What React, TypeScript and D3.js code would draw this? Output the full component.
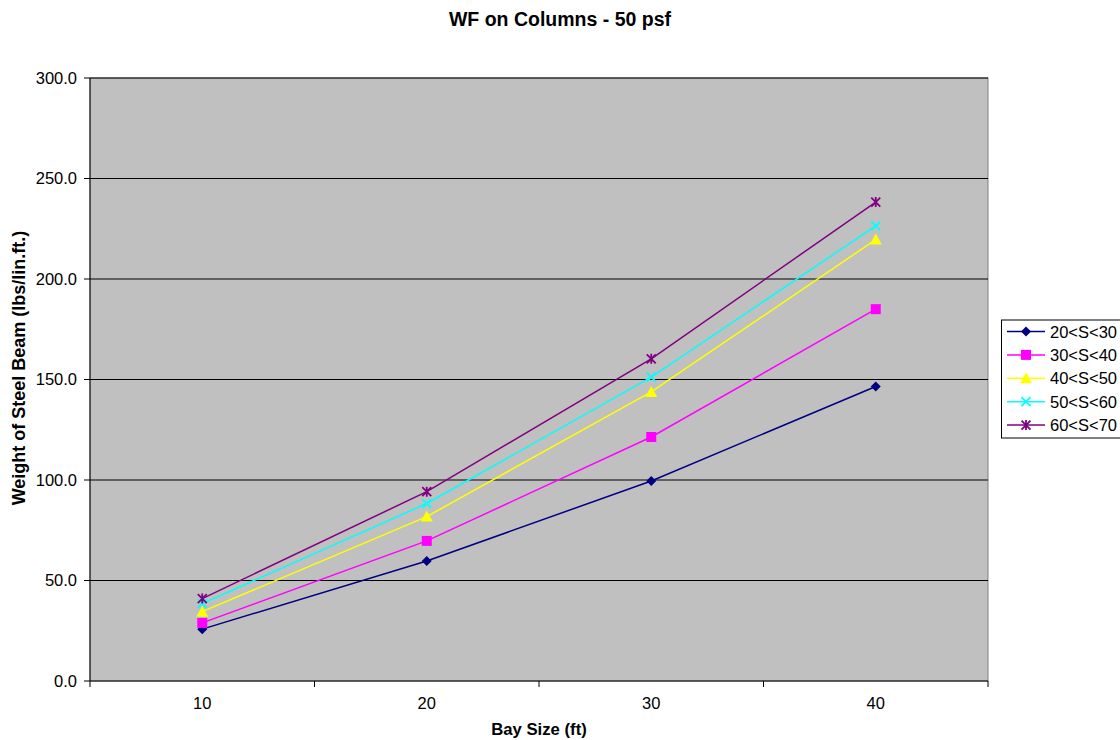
import React from "react";
import * as d3 from "d3";

const categories = [10, 20, 30, 40];
const seriesNames = ["20<S<30", "30<S<40", "40<S<50", "50<S<60", "60<S<70"];
const s1 = [25.8, 59.7, 99.5, 146.5];
const s2 = [28.9, 69.7, 121.4, 185.0];
const s3 = [34.5, 81.8, 143.8, 219.6];
const s4 = [38.5, 88.3, 151.2, 226.4];
const s5 = [41.0, 94.2, 160.3, 238.3];
const yTicks = [0, 50, 100, 150, 200, 250, 300];

const seriesValues = [s1, s2, s3, s4, s5];
const colors = ["#000080", "#FF00FF", "#FFFF00", "#00FFFF", "#800080"];
const markers = ["diamond", "square", "triangle", "x", "star"];

const W = 1120, H = 740;
const plot = { left: 90, right: 988, top: 78, bottom: 681 };

function Marker({ type, x, y, color }: { type: string; x: number; y: number; color: string }) {
  if (type === "diamond") {
    const s = 5;
    return <path d={`M${x},${y - s}L${x + s},${y}L${x},${y + s}L${x - s},${y}Z`} fill={color} />;
  }
  if (type === "square") {
    return <rect x={x - 5} y={y - 5} width={10} height={10} fill={color} />;
  }
  if (type === "triangle") {
    return <path d={`M${x},${y - 6}L${x + 6},${y + 5}L${x - 6},${y + 5}Z`} fill={color} />;
  }
  if (type === "x") {
    const s = 4.5;
    return (
      <path d={`M${x - s},${y - s}L${x + s},${y + s}M${x - s},${y + s}L${x + s},${y - s}`} stroke={color} strokeWidth={1.8} fill="none" />
    );
  }
  const s = 4.5;
  return (
    <path
      d={`M${x - s},${y - s}L${x + s},${y + s}M${x - s},${y + s}L${x + s},${y - s}M${x},${y - s - 0.5}L${x},${y + s + 0.5}`}
      stroke={color}
      strokeWidth={1.8}
      fill="none"
    />
  );
}

export default function App() {
  const x = d3
    .scaleBand<number>()
    .domain(categories)
    .range([plot.left, plot.right])
    .padding(0);
  const y = d3.scaleLinear().domain([0, 300]).range([plot.bottom, plot.top]);
  const cx = (c: number) => (x(c) as number) + x.bandwidth() / 2;
  const line = d3
    .line<number>()
    .x((_, i) => cx(categories[i]))
    .y((d) => y(d));

  const boundaries = categories.map((c) => x(c) as number).concat([plot.right]);
  const font = "Arial, 'Liberation Sans', sans-serif";

  const legend = { x: 1001.5, y: 320, w: 130, h: 118, rowH: 23.4 };

  return (
    <svg width={W} height={H} style={{ position: "absolute", left: 0, top: 0 }} fontFamily={font}>
      <rect x={0} y={0} width={W} height={H} fill="#fff" />
      <text x={560} y={26} textAnchor="middle" fontSize={19.5} fontWeight="bold">
        WF on Columns - 50 psf
      </text>
      <rect x={plot.left} y={plot.top} width={plot.right - plot.left} height={plot.bottom - plot.top} fill="#C0C0C0" stroke="#808080" strokeWidth={1} />
      {yTicks.map((t) => (
        <g key={t}>
          {t > 0 && <line x1={plot.left} x2={plot.right} y1={y(t)} y2={y(t)} stroke="#000" strokeWidth={1} />}
          <line x1={plot.left - 6} x2={plot.left} y1={y(t)} y2={y(t)} stroke="#000" />
          <text x={plot.left - 13} y={y(t) + 5.5} textAnchor="end" fontSize={16.5}>
            {t.toFixed(1)}
          </text>
        </g>
      ))}
      <line x1={plot.left} x2={plot.left} y1={plot.top} y2={plot.bottom} stroke="#000" />
      <line x1={plot.left} x2={plot.right} y1={plot.bottom} y2={plot.bottom} stroke="#000" />
      {boundaries.map((b, i) => (
        <line key={i} x1={b} x2={b} y1={plot.bottom} y2={plot.bottom + 6} stroke="#000" />
      ))}
      {categories.map((c) => (
        <text key={c} x={cx(c)} y={709} textAnchor="middle" fontSize={16.5}>
          {c}
        </text>
      ))}
      <text x={539} y={735} textAnchor="middle" fontSize={16.7} fontWeight="bold">
        Bay Size (ft)
      </text>
      <text transform={`translate(25,368) rotate(-90)`} textAnchor="middle" fontSize={18} fontWeight="bold">
        Weight of Steel Beam (lbs/lin.ft.)
      </text>
      {seriesValues.map((vals, si) => (
        <g key={si}>
          <path d={line(vals) || ""} fill="none" stroke={colors[si]} strokeWidth={1.5} />
          {vals.map((v, i) => (
            <Marker key={i} type={markers[si]} x={cx(categories[i])} y={y(v)} color={colors[si]} />
          ))}
        </g>
      ))}
      <rect x={legend.x} y={legend.y} width={legend.w} height={legend.h} fill="#fff" stroke="#000" />
      {seriesNames.map((n, i) => {
        const ly = legend.y + 11.5 + i * legend.rowH;
        return (
          <g key={n}>
            <line x1={1007} x2={1045} y1={ly} y2={ly} stroke={colors[i]} strokeWidth={1.5} />
            <Marker type={markers[i]} x={1026} y={ly} color={colors[i]} />
            <text x={1050} y={ly + 6} fontSize={16.5}>
              {n}
            </text>
          </g>
        );
      })}
    </svg>
  );
}
